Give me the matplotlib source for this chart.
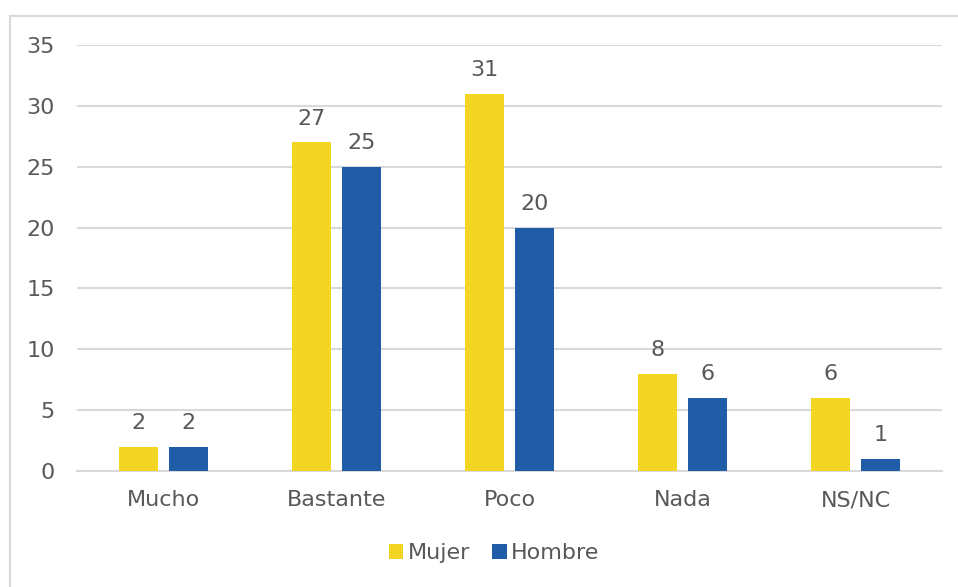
import numpy as np
import matplotlib.pyplot as plt
from matplotlib.lines import Line2D

# data
categories = ['Mucho', 'Bastante', 'Poco', 'Nada', 'NS/NC']
mujer = [2, 27, 31, 8, 6]
hombre = [2, 25, 20, 6, 1]

yellow = '#F3D523'
blue = '#215CA8'
grey_txt = '#595959'
grid_c = '#D9D9D9'

plt.rcParams['font.family'] = ['DejaVu Sans']

fig = plt.figure(figsize=(9.58, 5.87), dpi=100)
ax = fig.add_axes([0.0804, 0.1976, 0.9029, 0.7257])

x = np.arange(len(categories))
w = 0.225
off = 0.145
b1 = ax.bar(x - off, mujer, w, color=yellow, label='Mujer', zorder=3)
b2 = ax.bar(x + off, hombre, w, color=blue, label='Hombre', zorder=3)

for bars, vals in ((b1, mujer), (b2, hombre)):
    for b, v in zip(bars, vals):
        ax.annotate(str(v), (b.get_x() + b.get_width() / 2, v),
                    xytext=(0, 10), textcoords='offset points',
                    ha='center', va='bottom', fontsize=16, color=grey_txt)

ax.set_xlim(-0.5, 4.5)
ax.set_ylim(0, 35)
ax.set_yticks(range(0, 36, 5))
ax.set_xticks(x)
ax.set_xticklabels(categories)
ax.tick_params(axis='both', length=0, labelsize=16, labelcolor=grey_txt)
ax.tick_params(axis='y', pad=16)
ax.tick_params(axis='x', pad=14)
ax.yaxis.grid(True, color=grid_c, linewidth=1.5, zorder=0)
for s in ['top', 'right', 'left']:
    ax.spines[s].set_visible(False)
ax.spines['bottom'].set_color(grid_c)
ax.spines['bottom'].set_linewidth(1.5)

leg = fig.legend(loc='center', bbox_to_anchor=(0.516, 0.058), ncol=2, frameon=False,
                 fontsize=16, handlelength=0.65, handleheight=0.65, handletextpad=0.2,
                 columnspacing=1.0)
for t in leg.get_texts():
    t.set_color(grey_txt)

# outer chart border (left and top only visible)
fig.add_artist(Line2D([10 / 958, 10 / 958], [0, 1 - 16 / 587], color=grid_c, linewidth=1.5))
fig.add_artist(Line2D([10 / 958, 1], [1 - 16 / 587, 1 - 16 / 587], color=grid_c, linewidth=1.5))

fig.savefig('out.png', dpi=100)
